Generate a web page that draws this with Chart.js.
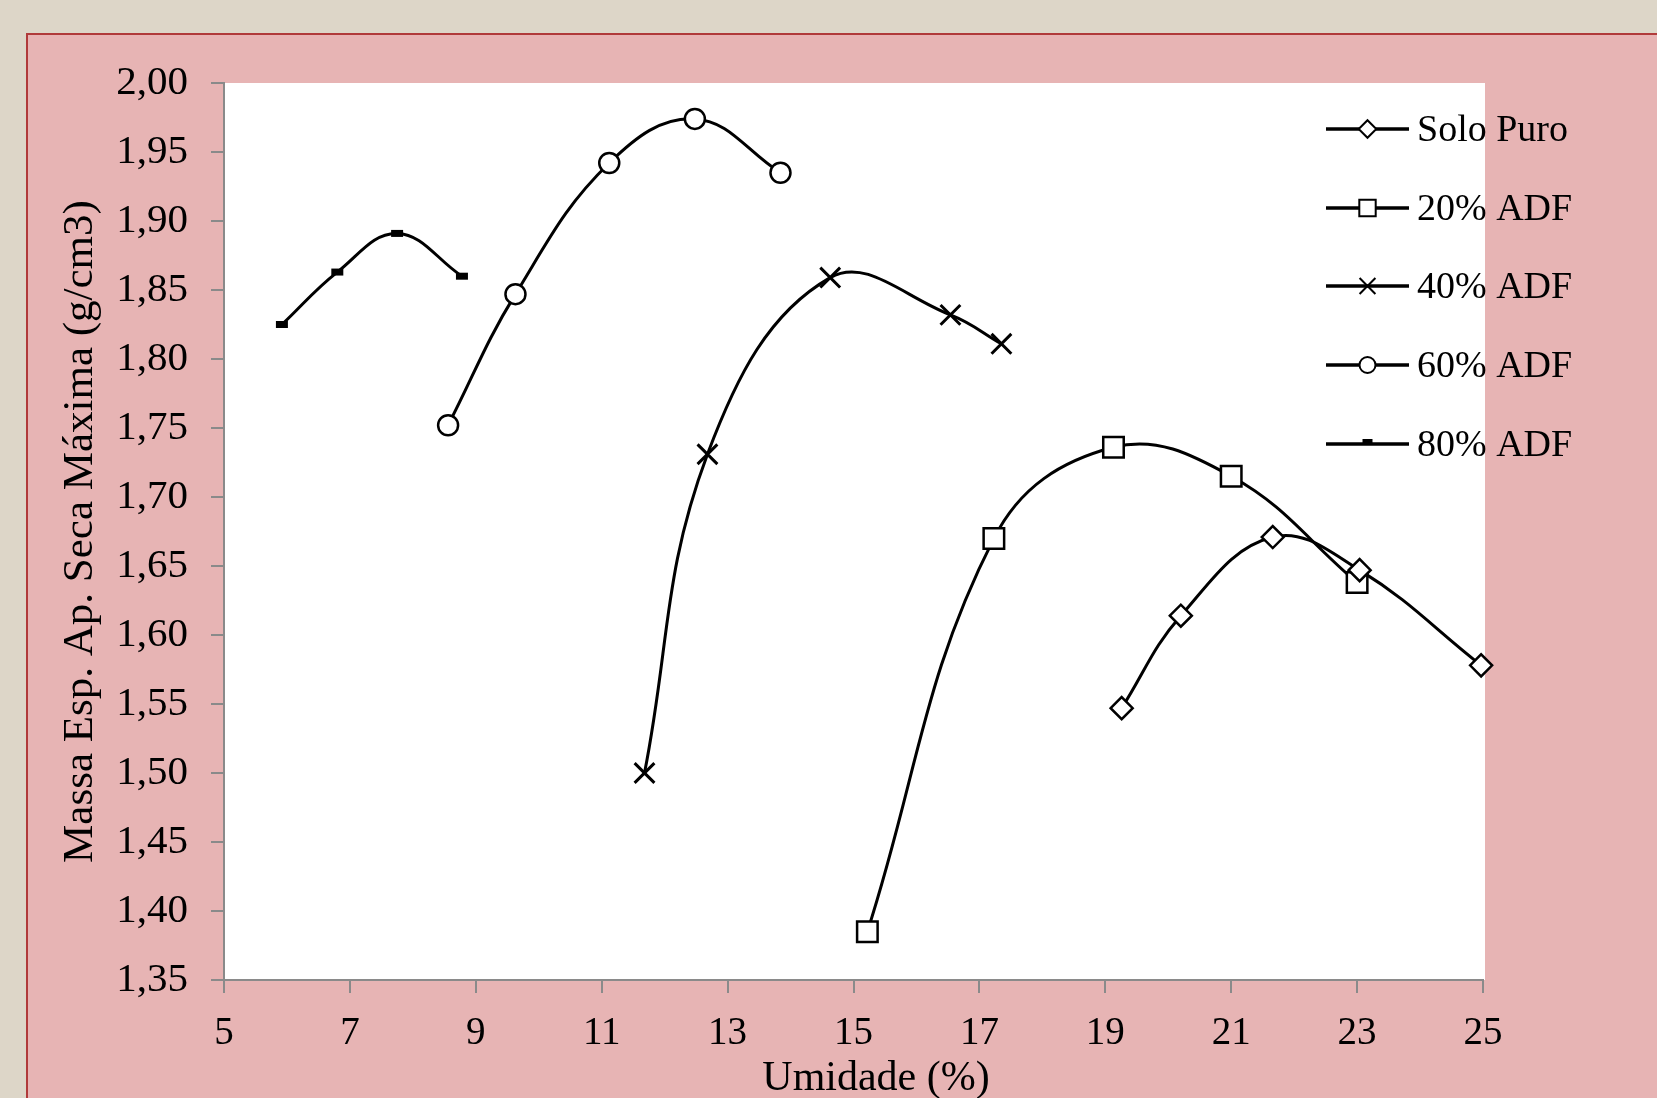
<!DOCTYPE html>
<html>
<head>
<meta charset="utf-8">
<script src="https://cdn.jsdelivr.net/npm/chart.js@4.4.1/dist/chart.umd.min.js"></script>
<style>
  html, body { margin: 0; padding: 0; overflow: hidden; background: #ddd6c8; }
  #frame {
    position: absolute; left: 26px; top: 33px; width: 1640px; height: 1080px;
    background: #e7b4b4; border-top: 2px solid #b03a3a; border-left: 2px solid #b03a3a;
  }
  #myChart { position: absolute; left: 0; top: 0; }
</style>
</head>
<body>
<div id="frame"></div>
<canvas id="myChart" width="1657" height="1098"></canvas>
<script>
const ctx = document.getElementById('myChart');

// values
const seriesNames = ['Solo Puro', '20% ADF', '40% ADF', '60% ADF', '80% ADF'];

const soloX = [19.26, 20.2, 21.66, 23.04, 24.97];
const soloY = [1.547, 1.614, 1.671, 1.647, 1.578];

const adf20X = [15.22, 17.23, 19.13, 21.0, 23.0];
const adf20Y = [1.385, 1.670, 1.736, 1.715, 1.638];

const adf40X = [11.68, 12.68, 14.63, 16.54, 17.35];
const adf40Y = [1.500, 1.731, 1.859, 1.832, 1.811];

const adf60X = [8.56, 9.63, 11.12, 12.48, 13.84];
const adf60Y = [1.752, 1.847, 1.942, 1.974, 1.935];

const adf80X = [5.92, 6.8, 7.75, 8.78];
const adf80Y = [1.825, 1.863, 1.891, 1.860];

const xTicks = [5, 7, 9, 11, 13, 15, 17, 19, 21, 23, 25];
const yTicks = [1.35, 1.40, 1.45, 1.50, 1.55, 1.60, 1.65, 1.70, 1.75, 1.80, 1.85, 1.90, 1.95, 2.00];

const xTitle = 'Umidade (%)';
const yTitle = 'Massa Esp. Ap. Seca Máxima (g/cm3)';

const toPoints = (xs, ys) => xs.map((x, i) => ({ x: x, y: ys[i] }));

const serif = "'Liberation Serif', 'Times New Roman', serif";

const mkSet = (label, pts, style, radius, bw) => ({
    label: label,
    data: pts,
    showLine: true,
    clip: false,
    tension: 0.4,
    borderColor: '#000',
    borderWidth: 3,
    pointStyle: style,
    pointRadius: radius,
    pointBorderWidth: bw,
    pointBorderColor: '#000',
    pointBackgroundColor: style === 'line' ? '#000' : '#fff'
});

const data = {
    datasets: [
        mkSet(seriesNames[0], toPoints(soloX, soloY), 'rectRot', 11, 2.5),
        mkSet(seriesNames[1], toPoints(adf20X, adf20Y), 'rect', 14.5, 2.5),
        mkSet(seriesNames[2], toPoints(adf40X, adf40Y), 'crossRot', 14, 3),
        mkSet(seriesNames[3], toPoints(adf60X, adf60Y), 'circle', 10, 2.5),
        mkSet(seriesNames[4], toPoints(adf80X, adf80Y), 'line', 6, 7)
    ]
};

// white plot area
const plotBg = {
    id: 'plotBg',
    beforeDraw(chart) {
        const a = chart.chartArea;
        const c = chart.ctx;
        c.save();
        c.fillStyle = '#fff';
        c.fillRect(a.left, a.top, a.right - a.left + 2, a.bottom - a.top);
        c.restore();
    }
};

// legend drawn over the plot, top right; x title sits a bit right of centre
const sideLegend = {
    id: 'sideLegend',
    afterDraw(chart) {
        const c = chart.ctx;
        const x0 = 1326, x1 = 1409, tx = 1417;
        const ys = [129, 208, 286, 365, 444];
        c.save();
        chart.data.datasets.forEach((ds, i) => {
            const y = ys[i];
            c.strokeStyle = '#000';
            c.lineWidth = 3.5;
            c.beginPath();
            c.moveTo(x0, y);
            c.lineTo(x1, y);
            c.stroke();
            c.fillStyle = ds.pointBackgroundColor;
            c.strokeStyle = '#000';
            c.lineWidth = ds.pointStyle === 'line' ? 6 : 2;
            if (Chart.helpers && Chart.helpers.drawPoint) {
                Chart.helpers.drawPoint(c, {
                    pointStyle: ds.pointStyle,
                    radius: ds.pointStyle === 'line' ? 5 : ds.pointRadius * 0.8,
                    borderWidth: c.lineWidth,
                    rotation: 0
                }, (x0 + x1) / 2, y - (ds.pointStyle === 'line' ? 2 : 0));
            }
            c.fillStyle = '#000';
            c.font = '38px ' + serif;
            c.textBaseline = 'middle';
            c.textAlign = 'left';
            c.fillText(ds.label, tx, y + 2);
        });

        c.font = '42px ' + serif;
        c.textAlign = 'center';
        c.textBaseline = 'middle';
        c.fillText(xTitle, 876, 1079);
        c.restore();
    }
};

let chart = new Chart(ctx, {
    type: 'scatter',
    data: data,
    plugins: [plotBg, sideLegend],
    options: {
        responsive: false,
        animation: false,
        layout: {
            padding: { left: 0, top: 83, right: 174, bottom: 0 }
        },
        plugins: {
            legend: { display: false },
            tooltip: { enabled: false },
            title: { display: false }
        },
        scales: {
            x: {
                type: 'linear',
                min: 5,
                max: 25,
                afterBuildTicks: (scale) => { scale.ticks = xTicks.map(v => ({ value: v })); },
                afterFit: (scale) => { scale.height = 118; },
                border: { color: '#8a8a8a', width: 2 },
                grid: { drawOnChartArea: false, drawTicks: true, tickLength: 13, color: '#8a8a8a', lineWidth: 2 },
                ticks: {
                    color: '#000',
                    padding: 17,
                    maxRotation: 0,
                    font: { family: serif, size: 39 }
                },
                title: { display: false }
            },
            y: {
                type: 'linear',
                min: 1.35,
                max: 2.0,
                afterBuildTicks: (scale) => { scale.ticks = yTicks.map(v => ({ value: v })); },
                afterFit: (scale) => { scale.width = 224; },
                border: { color: '#8a8a8a', width: 2 },
                grid: { drawOnChartArea: false, drawTicks: true, tickLength: 13, color: '#8a8a8a', lineWidth: 2 },
                ticks: {
                    color: '#000',
                    padding: 23,
                    font: { family: serif, size: 41 },
                    callback: (v) => Number(v).toFixed(2).replace('.', ',')
                },
                title: {
                    display: true,
                    text: yTitle,
                    color: '#000',
                    font: { family: serif, size: 43, lineHeight: 1.2 },
                    padding: { top: 55, bottom: 0 }
                }
            }
        }
    }
});
</script>
</body>
</html>
